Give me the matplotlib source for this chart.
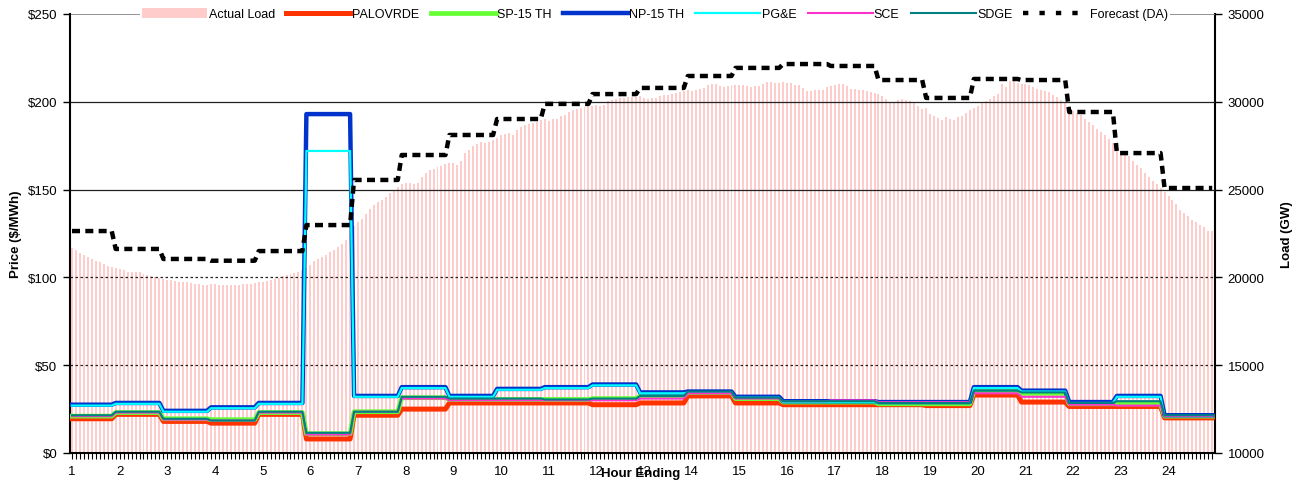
import numpy as np
import matplotlib
matplotlib.use('Agg')
import matplotlib.pyplot as plt
from matplotlib.patches import Patch
from matplotlib.lines import Line2D

plt.rcParams['font.family'] = ['Liberation Sans', 'DejaVu Sans']

# hourly labels on the category axis (288 five-minute intervals)
hour_labels = [str(h) for h in range(1, 25)]

# actual load, 5-minute values (MW)
actual_load = [
    21700, 21560, 21390, 21280, 21160, 21050, 20930, 20860, 20760, 20670, 20590, 20520,
    20480, 20400, 20330, 20290, 20330, 20290, 20210, 20140, 20060, 20020, 19950, 19910,
    19850, 19830, 19800, 19760, 19720, 19720, 19680, 19640, 19610, 19570, 19570, 19610,
    19610, 19570, 19570, 19570, 19570, 19570, 19570, 19610, 19610, 19640, 19680, 19720,
    19760, 19800, 19830, 19910, 19990, 20060, 20140, 20210, 20250, 20330, 20400, 20560,
    20710, 20930, 21050, 21160, 21280, 21430, 21560, 21730, 21900, 22110, 22530, 22950,
    23140, 23330, 23610, 23900, 24120, 24280, 24410, 24580, 24810, 24980, 25170, 25320,
    25380, 25380, 25300, 25380, 25720, 25950, 26120, 26170, 26270, 26330, 26440, 26520,
    26520, 26400, 26630, 27090, 27260, 27480, 27600, 27710, 27660, 27710, 27830, 27940,
    28110, 28170, 28220, 28110, 28400, 28570, 28680, 28740, 28790, 28850, 28980, 29020,
    28910, 29020, 29020, 29190, 29250, 29420, 29530, 29590, 29650, 29710, 29760, 29780,
    29820, 29780, 29820, 30050, 30120, 30160, 30200, 30240, 30260, 30280, 30280, 30330,
    30200, 30160, 30220, 30220, 30330, 30390, 30390, 30450, 30500, 30560, 30620, 30670,
    30620, 30670, 30730, 30790, 30960, 31020, 31020, 30900, 30840, 30900, 30960, 30960,
    30960, 30960, 30900, 30840, 30900, 30900, 31020, 31130, 31130, 31070, 31070, 31130,
    31070, 31070, 30960, 30960, 30790, 30620, 30620, 30670, 30670, 30670, 30840, 30900,
    30960, 31020, 31020, 30900, 30730, 30730, 30670, 30670, 30620, 30560, 30500, 30450,
    30330, 30160, 29990, 29990, 30100, 30160, 30100, 30050, 29930, 29760, 29590, 29650,
    29310, 29190, 29080, 28960, 29140, 29020, 28960, 29140, 29190, 29360, 29530, 29650,
    29760, 29930, 30050, 30160, 30330, 30470, 31020, 30840, 31190, 31410, 31070, 31020,
    31020, 30960, 30840, 30730, 30670, 30620, 30560, 30390, 30280, 30100, 29930, 29760,
    29480, 29360, 29250, 29020, 28850, 28680, 28450, 28280, 28110, 27880, 27660, 27370,
    27200, 27090, 26910, 26630, 26400, 26230, 25950, 25720, 25490, 25320, 25090, 24860,
    24640, 24410, 24180, 23840, 23670, 23500, 23270, 23160, 22990, 22870, 22640, 22640,
]

# day-ahead load forecast, hourly (MW)
forecast_da = [22640, 21620, 21050, 20950, 21500, 22980, 25550, 26970, 28110, 29020, 29880, 30440,
               30790, 31470, 31930, 32150, 32040, 31240, 30220, 31300, 31240, 29420, 27080, 25090]

# hourly prices ($/MWh)
palovrde = [19.5, 22, 18, 17, 22, 8, 21.5, 25, 28.5, 28.5, 28.5, 27.5,
            28.5, 32.5, 28.5, 27.5, 27.5, 27.5, 27, 33, 29, 26.5, 26.5, 20]
sp15 = [21, 23, 19.5, 19, 23, 11, 23.5, 31.5, 30.5, 30.5, 30.5, 31,
        32.5, 34.5, 31, 29, 29, 28, 28, 35, 34, 28, 28, 21]
np15 = [27.5, 28.5, 24, 26, 28.5, 193, 32.5, 37.5, 32.5, 36.5, 37.5, 39,
        34.5, 35, 32, 29.5, 29.5, 29, 29, 37.5, 35.5, 29, 32.5, 21.5]
pge = [27, 28, 23.5, 25.5, 28, 172, 32, 37, 32, 36, 37, 38.5,
       34, 34.5, 31.5, 29, 29, 28.5, 28.5, 37, 35, 28.5, 32, 21]
sce = [21, 23, 19, 18.5, 23, 10.5, 23.5, 31, 30, 30, 30, 30,
       31, 34, 31, 29.5, 30, 29, 29, 34, 32, 27.5, 27, 21]
sdge = [21.5, 23.5, 19.5, 18.5, 23.5, 11.5, 23.5, 32, 31, 31, 30.5, 31,
        32.5, 35, 31.5, 29.5, 29.5, 28.5, 28.5, 35.5, 34.5, 28.5, 29.5, 21.5]

n = len(actual_load)
x = np.arange(n)
# each 5-minute point takes the value of its hour ending
hour_idx = np.minimum((x + 1) // 12, 23)

def expand(vals):
    return np.asarray(vals, dtype=float)[hour_idx]

fig = plt.figure(figsize=(13.07, 4.85), dpi=100)
rect = [70 / 1307, 1 - 454 / 485, (1215 - 70) / 1307, (454 - 15) / 485]
xlim = (-0.5, n - 0.3)

# load axis (bars, background)
ax2 = fig.add_axes(rect)
ax2.bar(x, actual_load, width=0.5, color='#FFCCCC', antialiased=False, zorder=1)
ax2.set_ylim(10000, 35000)
ax2.set_xlim(*xlim)
ax2.yaxis.tick_right()
ax2.yaxis.set_label_position('right')
ax2.set_yticks(range(10000, 35001, 5000))
ax2.tick_params(axis='y', direction='out', length=5, width=1, labelsize=9.5, pad=4)
ax2.set_ylabel('Load (GW)', fontsize=9.5, fontweight='bold', labelpad=12)
ax2.set_xticks([])
for s in ['top', 'left', 'bottom']:
    ax2.spines[s].set_visible(False)
ax2.spines['right'].set_linewidth(1.5)

# price axis
ax = fig.add_axes(rect)
ax.patch.set_visible(False)
ax.set_xlim(*xlim)
ax.set_ylim(0, 250)
ax.set_yticks(range(0, 251, 50))
ax.set_yticklabels(['$%d' % v for v in range(0, 251, 50)])
ax.tick_params(axis='y', direction='out', length=5, width=1, labelsize=9.5, pad=4)
ax.set_ylabel('Price ($/MWh)', fontsize=9.5, fontweight='bold', labelpad=4)
ax.set_xticks(x)
ax.set_xticklabels([hour_labels[i // 12] if i % 12 == 0 else '' for i in x])
ax.tick_params(axis='x', direction='out', length=4, width=0.8, labelsize=9.5, pad=5)
for s in ['top', 'right']:
    ax.spines[s].set_visible(False)
ax.spines['left'].set_linewidth(1.5)
ax.spines['bottom'].set_linewidth(1.5)

ax.axhline(250, color='#808080', lw=1.2, zorder=1)
for v in [200, 150]:
    ax.axhline(v, color='#222222', lw=0.9, zorder=1)
for v in [100, 50]:
    ax.axhline(v, color='#222222', lw=0.9, ls=(0, (2, 2)), zorder=1)

ax.plot(x, expand(palovrde), color='#FF3300', lw=3.6, zorder=3)
ax.plot(x, expand(sp15), color='#66FF33', lw=3.4, zorder=3)
ax.plot(x, expand(np15), color='#0033CC', lw=3.2, zorder=3)
ax.plot(x, expand(pge), color='#00FFFF', lw=1.6, zorder=3)
ax.plot(x, expand(sce), color='#FF33CC', lw=1.5, zorder=3)
ax.plot(x, expand(sdge), color='#008080', lw=1.5, zorder=3)

# forecast on top
ax3 = fig.add_axes(rect)
ax3.patch.set_visible(False)
ax3.set_xlim(*xlim)
ax3.set_ylim(10000, 35000)
ax3.axis('off')
ax3.plot(x, expand(forecast_da), color='black', lw=3.2, ls=(0, (1.8, 1.2)))

fig.text(641 / 1307, 1 - 474 / 485, 'Hour Ending', ha='center', va='center',
         fontsize=9.5, fontweight='bold')

handles = [
    Patch(facecolor='#FFCCCC', edgecolor='none'),
    Line2D([], [], color='#FF3300', lw=3.6),
    Line2D([], [], color='#66FF33', lw=3.4),
    Line2D([], [], color='#0033CC', lw=3.2),
    Line2D([], [], color='#00FFFF', lw=1.6),
    Line2D([], [], color='#FF33CC', lw=1.5),
    Line2D([], [], color='#008080', lw=1.5),
    Line2D([], [], color='black', lw=3.2, ls=(0, (1.2, 2.5))),
]
labels = ['Actual Load', 'PALOVRDE', 'SP-15 TH', 'NP-15 TH', 'PG&E', 'SCE', 'SDGE', 'Forecast (DA)']
leg = ax3.legend(handles, labels, loc='center', bbox_to_anchor=(0.511, 1.0), ncol=8,
                 fontsize=9, frameon=True, fancybox=False, edgecolor='none', framealpha=1,
                 handlelength=5.2, handleheight=0.9, handletextpad=0.1, columnspacing=0.9,
                 borderpad=0.2, borderaxespad=0)

fig.savefig('out.png', dpi=100)
